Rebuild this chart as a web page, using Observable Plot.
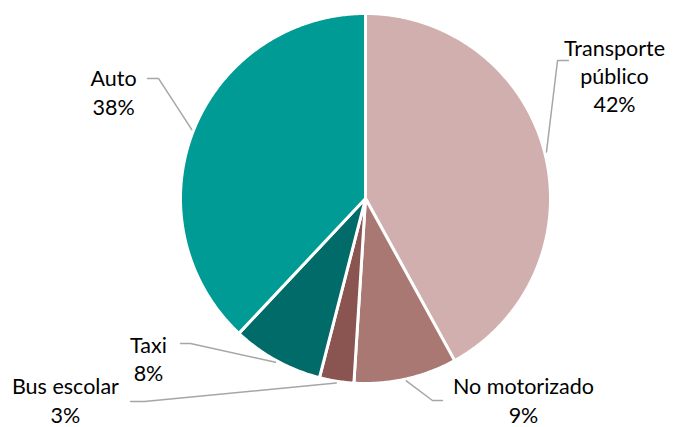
<!DOCTYPE html>
<html>
<head>
<meta charset="utf-8">
<script src="https://cdn.jsdelivr.net/npm/d3@7"></script>
<script src="https://cdn.jsdelivr.net/npm/@observablehq/plot@0.6"></script>
<style>
  html, body { margin: 0; padding: 0; background: #fff; }
</style>
</head>
<body>
<div id="chart"></div>
<script>
// ---- data ----
const categories = ["Transporte público", "No motorizado", "Bus escolar", "Taxi", "Auto"];
const labelNames = ["Transporte\npúblico", "No motorizado", "Bus escolar", "Taxi", "Auto"];
const values = [42, 9, 3, 8, 38];
const colors = ["#D0AFAE", "#A97873", "#8A5450", "#006B69", "#009B95"];

// ---- layout (unit-circle coordinates, radius = 1) ----
const labelX = [1.346, 0.854, -1.622, -1.173, -1.362];
const labelY = [0.668, -1.086, -1.086, -0.860, 0.578];
const elbowX = [1.038, 0.362, -1.195, -0.946, -1.119];
const elbowY = [0.746, -1.092, -1.097, -0.784, 0.649];
const endX   = [1.097, 0.416, -1.270, -1.000, -1.178];

const W = 689, H = 427;
const cx = 365, cy = 198, R = 185;

const total = d3.sum(values);
let acc = 0;
const slices = categories.map((c, i) => {
  const a0 = acc / total * 2 * Math.PI;
  acc += values[i];
  const a1 = acc / total * 2 * Math.PI;
  return {c, i, a0, a1, mid: (a0 + a1) / 2};
});

function polygon(s) {
  const pts = [{x: 0, y: 0}];
  const n = Math.max(2, Math.ceil((s.a1 - s.a0) / (Math.PI / 360)));
  for (let k = 0; k <= n; k++) {
    const a = s.a0 + (s.a1 - s.a0) * k / n;
    pts.push({x: Math.sin(a), y: Math.cos(a)});
  }
  pts.push({x: 0, y: 0});
  return pts;
}

const sliceMarks = slices.map(s =>
  Plot.line(polygon(s), {
    x: "x", y: "y", fill: colors[s.i], stroke: "white",
    strokeWidth: 3, strokeLinejoin: "round", curve: "linear"
  })
);

const leaders = slices.map(s => {
  const r0 = 1.01;
  return [
    {x: Math.sin(s.mid) * r0, y: Math.cos(s.mid) * r0},
    {x: elbowX[s.i], y: elbowY[s.i]},
    {x: endX[s.i], y: elbowY[s.i]}
  ];
});
const leaderMarks = leaders.map(pts =>
  Plot.line(pts, {x: "x", y: "y", stroke: "#A6A6A6", strokeWidth: 1.5, curve: "linear"})
);

const labelData = slices.map(s => ({
  x: labelX[s.i], y: labelY[s.i],
  text: labelNames[s.i] + "\n" + values[s.i] + "%"
}));

const chart = Plot.plot({
  width: W, height: H,
  margin: 0,
  x: {domain: [(0 - cx) / R, (W - cx) / R], axis: null},
  y: {domain: [(cy - H) / R, cy / R], axis: null},
  style: {fontFamily: "Lato, sans-serif", background: "white"},
  marks: [
    ...sliceMarks,
    ...leaderMarks,
    Plot.text(labelData, {
      x: "x", y: "y", text: "text",
      fontSize: 21.5, lineHeight: 1.32, fill: "#000",
      textAnchor: "middle", lineAnchor: "middle"
    })
  ]
});
document.getElementById("chart").appendChild(chart);
</script>
</body>
</html>
